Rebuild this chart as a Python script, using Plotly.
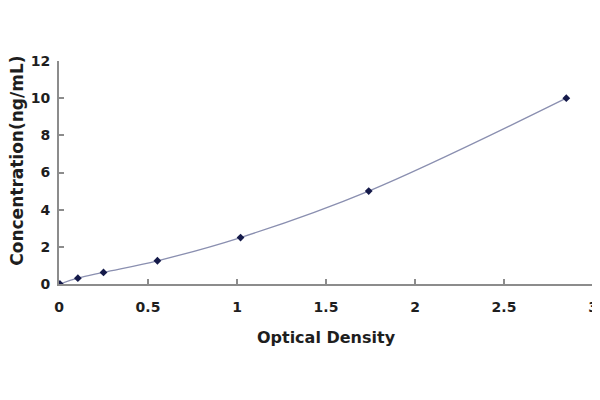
import plotly.graph_objects as go

# Standard curve readings
od = [0.005, 0.106, 0.25, 0.553, 1.02, 1.74, 2.85]
conc = [0.0, 0.312, 0.625, 1.25, 2.5, 5.0, 10.0]

x_ticks = [0, 0.5, 1, 1.5, 2, 2.5, 3]
x_labels = ["0", "0.5", "1", "1.5", "2", "2.5", "3"]
y_ticks = [0, 2, 4, 6, 8, 10, 12]

FONT = "DejaVu Sans"
tick_font = dict(family=FONT, size=14, color="#1e1e1e")

fig = go.Figure()

# fitted curve
fig.add_trace(go.Scatter(x=od, y=conc, mode="lines",
                         line=dict(color="#8a8fb0", width=1.3, shape="spline"),
                         hoverinfo="skip", showlegend=False))
# measured points
fig.add_trace(go.Scatter(x=od, y=conc, mode="markers",
                         marker=dict(symbol="diamond", size=6, color="#151a4a"),
                         showlegend=False))

fig.update_xaxes(range=[0, 3], tickvals=x_ticks,
                 ticktext=["<b>%s</b>" % t for t in x_labels],
                 showgrid=False, zeroline=False, automargin=False,
                 showline=True, linecolor="#8c8c8c", linewidth=2,
                 ticks="inside", ticklen=5, tickcolor="#8c8c8c", tickwidth=2,
                 ticklabelstandoff=9, tickfont=tick_font,
                 title=dict(text="<b>Optical Density</b>",
                            font=dict(family=FONT, size=16, color="#1e1e1e"),
                            standoff=18))
fig.update_yaxes(range=[0, 12], tickvals=y_ticks,
                 ticktext=["<b>%d</b>" % t for t in y_ticks],
                 showgrid=False, zeroline=False, automargin=False,
                 showline=True, linecolor="#8c8c8c", linewidth=2,
                 ticks="inside", ticklen=5, tickcolor="#8c8c8c", tickwidth=2,
                 ticklabelstandoff=4, tickfont=tick_font)

# y title sits a little above the axis centre in the original
fig.add_annotation(text="<b>Concentration(ng/mL)</b>", textangle=-90,
                   xref="paper", yref="paper", x=-0.079, y=0.552,
                   xanchor="center", yanchor="middle", showarrow=False,
                   font=dict(family=FONT, size=17, color="#1e1e1e"))

# page body adds an 8px offset, so the figure is sized to fill the rest
fig.update_layout(width=592, height=384,
                  margin=dict(l=51, r=7, t=53, b=108),
                  plot_bgcolor="white", paper_bgcolor="white",
                  font=dict(family=FONT, color="#1e1e1e"))

fig.write_html("out.html")
